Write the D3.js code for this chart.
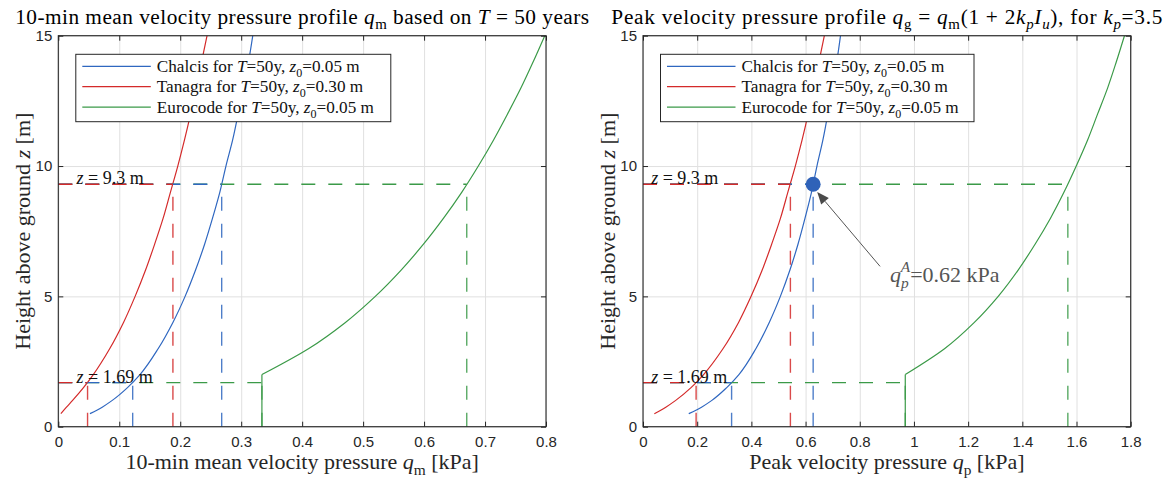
<!DOCTYPE html>
<html>
<head>
<meta charset="utf-8">
<script src="https://cdn.jsdelivr.net/npm/d3@7"></script>
<style>
  body { margin: 0; background: #fff; }
  svg { display: block; }
</style>
</head>
<body>
<script>
// heights [m]
var zChalcis = [0.5, 0.75, 1, 1.5, 2, 3, 4, 5, 6, 7, 8, 9, 10, 11, 12, 13, 14, 15];
var zTanagra = [0.5, 0.75, 1, 1.5, 2, 3, 4, 5, 6, 7, 8, 9, 10, 11, 12, 13, 14, 15];
var zEuro    = [0, 2, 3, 4, 5, 6, 7, 8, 9, 10, 11, 12, 13, 14, 15];

// 10-min mean velocity pressure [kPa]
var qmChalcis = [0.052, 0.072, 0.088, 0.1135, 0.134, 0.164, 0.188, 0.208, 0.225, 0.240, 0.253, 0.265, 0.275, 0.286, 0.295, 0.303, 0.312, 0.319];
var qmTanagra = [0.0042, 0.0134, 0.0231, 0.0413, 0.0574, 0.0845, 0.107, 0.126, 0.143, 0.158, 0.172, 0.184, 0.196, 0.207, 0.217, 0.226, 0.235, 0.244];
var qmEuro    = [0.334, 0.334, 0.411, 0.471, 0.520, 0.562, 0.599, 0.632, 0.662, 0.689, 0.714, 0.737, 0.759, 0.779, 0.798];

// peak velocity pressure [kPa]
var qpChalcis = [0.169, 0.216, 0.253, 0.309, 0.354, 0.417, 0.466, 0.507, 0.542, 0.572, 0.598, 0.622, 0.642, 0.664, 0.682, 0.697, 0.715, 0.729];
var qpTanagra = [0.0418, 0.0842, 0.1196, 0.1773, 0.2235, 0.2957, 0.3527, 0.399, 0.4396, 0.4748, 0.5075, 0.5347, 0.5622, 0.5872, 0.6095, 0.6293, 0.6493, 0.6694];
var qpEuro    = [0.968, 0.968, 1.114, 1.223, 1.311, 1.384, 1.447, 1.504, 1.554, 1.599, 1.641, 1.678, 1.715, 1.747, 1.777];

// reference heights and values read at them
var refZ = [9.3, 1.69];
var refLabels = ["9.3", "1.69"];
var refMean = { chalcis: [0.268, 0.122], tanagra: [0.188, 0.048], euro: [0.67, 0.334] };
var refPeak = { chalcis: [0.628, 0.327], tanagra: [0.544, 0.196], euro: [1.568, 0.968] };

var xTicksMean = [0, 0.1, 0.2, 0.3, 0.4, 0.5, 0.6, 0.7, 0.8];
var xTicksPeak = [0, 0.2, 0.4, 0.6, 0.8, 1, 1.2, 1.4, 1.6, 1.8];
var yTicks = [0, 5, 10, 15];

var legendNames = ["Chalcis", "Tanagra", "Eurocode"];
var legendZ0 = ["0.05", "0.30", "0.05"];

var colors = { chalcis: "#2f67c0", tanagra: "#d42a2a", euro: "#3b9a48" };
var SERIF = "'Liberation Serif', 'Times New Roman', serif";
var SANS = "'Liberation Sans', Arial, sans-serif";
var AX = "#262626";

var W = 1167, H = 479;
var svg = d3.select("body").append("svg").attr("width", W).attr("height", H);

// text with italic / sub / sup pieces
function rich(sel, parts, size) {
    var shift = 0;
    parts.forEach(function (p) {
        var target = p.sub ? size * 0.28 : (p.sup ? -size * 0.45 : 0);
        var ts = sel.append("tspan").text(p.t).attr("dy", target - shift);
        if (p.dx) ts.attr("dx", p.dx);
        shift = target;
        if (p.i) ts.attr("font-style", "italic");
        if (p.sub || p.sup) ts.attr("font-size", size * 0.7);
    });
}

function panel(cfg) {
    var top = 35.7, bottom = 426.7;
    var x = d3.scaleLinear().domain(cfg.xDomain).range([cfg.left, cfg.left + 487.7]);
    var y = d3.scaleLinear().domain([0, 15]).range([bottom, top]);
    var g = svg.append("g");

    var clipId = "clip" + cfg.id;
    svg.append("clipPath").attr("id", clipId).append("rect")
        .attr("x", x.range()[0]).attr("y", top)
        .attr("width", x.range()[1] - x.range()[0]).attr("height", bottom - top);

    // grid
    g.append("g").attr("transform", "translate(0," + bottom + ")")
        .call(d3.axisBottom(x).tickValues(cfg.xTicks).tickSize(-(bottom - top)).tickFormat(""))
        .call(function (a) { a.select(".domain").remove(); a.selectAll("line").attr("stroke", "#e0e0e0"); });
    g.append("g").attr("transform", "translate(" + x.range()[0] + ",0)")
        .call(d3.axisLeft(y).tickValues(yTicks).tickSize(-(x.range()[1] - x.range()[0])).tickFormat(""))
        .call(function (a) { a.select(".domain").remove(); a.selectAll("line").attr("stroke", "#e0e0e0"); });

    var plot = g.append("g").attr("clip-path", "url(#" + clipId + ")");

    var line = d3.line()
        .x(function (d) { return x(d[0]); })
        .y(function (d) { return y(d[1]); })
        .curve(d3.curveMonotoneY);

    var series = [
        { key: "chalcis", q: cfg.qChalcis, z: zChalcis },
        { key: "tanagra", q: cfg.qTanagra, z: zTanagra },
        { key: "euro", q: cfg.qEuro, z: zEuro }
    ];
    series.forEach(function (s) {
        var pts = s.q.map(function (v, i) { return [v, s.z[i]]; });
        if (s.key === "euro") {
            // constant part below z_min, then the log profile
            plot.append("path").attr("d", d3.line().x(function (d) { return x(d[0]); }).y(function (d) { return y(d[1]); })(pts.slice(0, 2)))
                .attr("fill", "none").attr("stroke", colors[s.key]).attr("stroke-width", 1.2);
            pts = pts.slice(1);
        }
        plot.append("path").attr("d", line(pts))
            .attr("fill", "none").attr("stroke", colors[s.key]).attr("stroke-width", 1.2);
    });

    // dashed reference lines (drawn green, blue, red so red sits on top)
    ["euro", "chalcis", "tanagra"].forEach(function (k) {
        cfg.ref[k].forEach(function (v, i) {
            var zz = refZ[i];
            plot.append("line")
                .attr("x1", x(0)).attr("x2", x(v)).attr("y1", y(zz)).attr("y2", y(zz))
                .attr("stroke", colors[k]).attr("stroke-width", 1.4).attr("stroke-dasharray", "14,13");
            plot.append("line")
                .attr("x1", x(v)).attr("x2", x(v)).attr("y1", y(0)).attr("y2", y(zz))
                .attr("stroke", colors[k]).attr("stroke-width", 1.4).attr("stroke-dasharray", "14,13")
                .attr("stroke-opacity", 0.85);
        });
    });

    // z labels
    refZ.forEach(function (zz, i) {
        var t = g.append("text").attr("x", x(cfg.labelX)).attr("y", y(zz))
            .attr("font-family", SERIF).attr("font-size", 18).attr("fill", "#111");
        rich(t, [{ t: "z", i: true }, { t: " = " + refLabels[i] + " m" }], 18);
    });

    if (cfg.marker) cfg.marker(g, x, y);

    // legend
    var lx = x.range()[0] + 17.5, ly = 54.3, lw = cfg.legendW, lh = 67.4;
    var lg = g.append("g");
    lg.append("rect").attr("x", lx).attr("y", ly).attr("width", lw).attr("height", lh)
        .attr("fill", "#fff").attr("stroke", AX).attr("stroke-width", 1);
    ["chalcis", "tanagra", "euro"].forEach(function (k, i) {
        var yy = ly + 12 + i * 20.4;
        lg.append("line").attr("x1", lx + 6.5).attr("x2", lx + 75).attr("y1", yy).attr("y2", yy)
            .attr("stroke", colors[k]).attr("stroke-width", 1.3);
        var t = lg.append("text").attr("x", lx + 81).attr("y", yy + 5.6)
            .attr("font-family", SERIF).attr("font-size", 17.2).attr("fill", "#111");
        rich(t, [
            { t: legendNames[i] + " for " }, { t: "T", i: true }, { t: "=50y, " },
            { t: "z", i: true }, { t: "0", sub: true }, { t: "=" + legendZ0[i] + " m" }
        ], 17.2);
    });

    // axes with inward ticks
    var fmt = function (d) { return String(+d.toFixed(1)); };
    var bx = g.append("g").attr("transform", "translate(0," + bottom + ")")
        .call(d3.axisBottom(x).tickValues(cfg.xTicks).tickSizeInner(-5).tickSizeOuter(0).tickPadding(10).tickFormat(fmt));
    var tx = g.append("g").attr("transform", "translate(0," + top + ")")
        .call(d3.axisTop(x).tickValues(cfg.xTicks).tickSizeInner(-5).tickSizeOuter(0).tickFormat(""));
    var ly1 = g.append("g").attr("transform", "translate(" + x.range()[0] + ",0)")
        .call(d3.axisLeft(y).tickValues(yTicks).tickSizeInner(-5).tickSizeOuter(0).tickPadding(6));
    var ry = g.append("g").attr("transform", "translate(" + x.range()[1] + ",0)")
        .call(d3.axisRight(y).tickValues(yTicks).tickSizeInner(-5).tickSizeOuter(0).tickFormat(""));
    [bx, tx, ly1, ry].forEach(function (a) {
        a.select(".domain").remove();
        a.selectAll("line").attr("stroke", AX);
        a.selectAll("text").attr("font-family", SANS).attr("font-size", 15).attr("fill", AX);
    });
    g.append("rect").attr("x", x.range()[0]).attr("y", top)
        .attr("width", x.range()[1] - x.range()[0]).attr("height", bottom - top)
        .attr("fill", "none").attr("stroke", AX).attr("stroke-width", 1.1);

    // labels
    var cx = (x.range()[0] + x.range()[1]) / 2;
    var tt = g.append("text").attr("x", cx).attr("y", 23.5).attr("text-anchor", "middle")
        .attr("font-family", SERIF).attr("font-size", 21.3).attr("fill", "#000")
        .attr("textLength", cfg.titleW).attr("lengthAdjust", "spacing");
    rich(tt, cfg.title, 21.3);
    var xl = g.append("text").attr("x", cx).attr("y", 469).attr("text-anchor", "middle")
        .attr("font-family", SERIF).attr("font-size", 22).attr("fill", AX);
    rich(xl, cfg.xLabel, 22);
    var yl = g.append("text").attr("transform", "translate(" + (x.range()[0] - 28) + "," + ((top + bottom) / 2) + ") rotate(-90)")
        .attr("text-anchor", "middle")
        .attr("font-family", SERIF).attr("font-size", 22).attr("fill", AX);
    rich(yl, [{ t: "Height above ground " }, { t: "z", i: true }, { t: " [m]" }], 22);
}

panel({
    id: "mean", left: 58.3, xDomain: [0, 0.8], xTicks: xTicksMean,
    qChalcis: qmChalcis, qTanagra: qmTanagra, qEuro: qmEuro,
    ref: refMean, labelX: 0.03, legendW: 315, titleW: 574,
    title: [{ t: "10-min mean velocity pressure profile " }, { t: "q", i: true }, { t: "m", sub: true },
            { t: " based on " }, { t: "T", i: true }, { t: " = 50 years" }],
    xLabel: [{ t: "10-min mean velocity pressure " }, { t: "q", i: true }, { t: "m", sub: true }, { t: " [kPa]" }]
});

panel({
    id: "peak", left: 643, xDomain: [0, 1.8], xTicks: xTicksPeak,
    qChalcis: qpChalcis, qTanagra: qpTanagra, qEuro: qpEuro,
    ref: refPeak, labelX: 0.03, legendW: 313.5, titleW: 551,
    title: [{ t: "Peak velocity pressure profile " }, { t: "q", i: true }, { t: "g", sub: true },
            { t: " = " }, { t: "q", i: true }, { t: "m", sub: true }, { t: "(1 + 2" }, { t: "k", i: true },
            { t: "p", sub: true, i: true }, { t: "I", i: true }, { t: "u", sub: true, i: true },
            { t: "), for " }, { t: "k", i: true }, { t: "p", sub: true, i: true }, { t: "=3.5" }],
    xLabel: [{ t: "Peak velocity pressure " }, { t: "q", i: true }, { t: "p", sub: true }, { t: " [kPa]" }],
    marker: function (g, x, y) {
        var px = x(refPeak.chalcis[0]), py = y(refZ[0]);
        var ax0 = x(0.875), ay0 = y(6.15), ax1 = x(0.643), ay1 = y(9.0);
        var ang = Math.atan2(ay1 - ay0, ax1 - ax0);
        var L = 12, hw = 5;
        var bxp = ax1 - L * Math.cos(ang), byp = ay1 - L * Math.sin(ang);
        g.append("line").attr("x1", ax0).attr("y1", ay0).attr("x2", bxp).attr("y2", byp)
            .attr("stroke", "#555").attr("stroke-width", 1);
        g.append("path").attr("d", "M" + ax1 + "," + ay1 +
            "L" + (bxp + hw * Math.sin(ang)) + "," + (byp - hw * Math.cos(ang)) +
            "L" + (bxp - hw * Math.sin(ang)) + "," + (byp + hw * Math.cos(ang)) + "Z")
            .attr("fill", "#4a4a4a");
        g.append("circle").attr("cx", px).attr("cy", py).attr("r", 7.5).attr("fill", "#2f62b8");
        var t = g.append("text").attr("x", x(0.912)).attr("y", y(5.55))
            .attr("font-family", SERIF).attr("font-size", 22).attr("fill", "#555");
        rich(t, [{ t: "q", i: true }, { t: "p", sub: true, i: true }, { t: "A", sup: true, i: true, dx: -8 },
                 { t: "=0.62 kPa" }], 22);
    }
});
</script>
</body>
</html>
